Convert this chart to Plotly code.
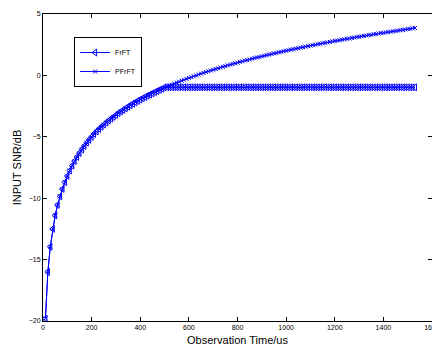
import plotly.graph_objects as go

# Observation time (us)
obs_time = [10 * n for n in range(1, 154)]

# PFrFT: keeps improving with observation time
pfrft_snr = [
    -19.8, -16.0, -13.95, -12.5, -11.4, -10.55, -9.85, -9.25, -8.7, -8.19,
    -7.75, -7.35, -6.98, -6.64, -6.32, -6.03, -5.75, -5.48, -5.24, -5.00,
    -4.77, -4.57, -4.37, -4.19, -4.01, -3.84, -3.68, -3.52, -3.37, -3.22,
    -3.08, -2.94, -2.81, -2.68, -2.55, -2.43, -2.31, -2.19, -2.08, -1.97,
    -1.86, -1.76, -1.66, -1.56, -1.46, -1.36, -1.27, -1.18, -1.09, -1.00,
    -0.91, -0.83, -0.75, -0.67, -0.59, -0.51, -0.43, -0.36, -0.28, -0.21,
    -0.14, -0.07, 0.00, 0.07, 0.14, 0.21, 0.27, 0.34, 0.40, 0.46,
    0.52, 0.58, 0.64, 0.70, 0.76, 0.82, 0.88, 0.93, 0.99, 1.04,
    1.10, 1.15, 1.20, 1.25, 1.30, 1.36, 1.41, 1.46, 1.50, 1.55,
    1.60, 1.65, 1.70, 1.74, 1.79, 1.83, 1.88, 1.92, 1.97, 2.01,
    2.05, 2.10, 2.14, 2.18, 2.22, 2.26, 2.30, 2.34, 2.38, 2.42,
    2.46, 2.50, 2.54, 2.58, 2.62, 2.66, 2.69, 2.73, 2.77, 2.80,
    2.84, 2.87, 2.91, 2.94, 2.98, 3.01, 3.05, 3.08, 3.12, 3.15,
    3.18, 3.22, 3.25, 3.28, 3.31, 3.35, 3.38, 3.41, 3.44, 3.47,
    3.50, 3.53, 3.56, 3.59, 3.62, 3.65, 3.68, 3.71, 3.74, 3.77,
    3.80, 3.83, 3.86,
]

# FrFT: saturates at about -1 dB after ~500 us
frft_snr = [
    -19.8, -16.0, -13.95, -12.5, -11.4, -10.55, -9.85, -9.25, -8.7, -8.19,
    -7.75, -7.35, -6.98, -6.64, -6.32, -6.03, -5.75, -5.48, -5.24, -5.00,
    -4.77, -4.57, -4.37, -4.19, -4.01, -3.84, -3.68, -3.52, -3.37, -3.22,
    -3.08, -2.94, -2.81, -2.68, -2.55, -2.43, -2.31, -2.19, -2.08, -1.97,
    -1.86, -1.76, -1.66, -1.56, -1.46, -1.36, -1.27, -1.18, -1.09, -0.97,
    -0.97, -0.97, -0.97, -0.97, -0.97, -0.97, -0.97, -0.97, -0.97, -0.97,
    -0.97, -0.97, -0.97, -0.97, -0.97, -0.97, -0.97, -0.97, -0.97, -0.97,
    -0.97, -0.97, -0.97, -0.97, -0.97, -0.97, -0.97, -0.97, -0.97, -0.97,
    -0.97, -0.97, -0.97, -0.97, -0.97, -0.97, -0.97, -0.97, -0.97, -0.97,
    -0.97, -0.97, -0.97, -0.97, -0.97, -0.97, -0.97, -0.97, -0.97, -0.97,
    -0.97, -0.97, -0.97, -0.97, -0.97, -0.97, -0.97, -0.97, -0.97, -0.97,
    -0.97, -0.97, -0.97, -0.97, -0.97, -0.97, -0.97, -0.97, -0.97, -0.97,
    -0.97, -0.97, -0.97, -0.97, -0.97, -0.97, -0.97, -0.97, -0.97, -0.97,
    -0.97, -0.97, -0.97, -0.97, -0.97, -0.97, -0.97, -0.97, -0.97, -0.97,
    -0.97, -0.97, -0.97, -0.97, -0.97, -0.97, -0.97, -0.97, -0.97, -0.97,
    -0.97, -0.97, -0.97,
]

x_ticks = [0, 200, 400, 600, 800, 1000, 1200, 1400, 1600]
y_ticks = [-20, -15, -10, -5, 0, 5]

FONT = "Liberation Sans, Arial, Helvetica, sans-serif"
BLUE = "#0000ff"

fig = go.Figure()
fig.add_trace(go.Scatter(
    x=obs_time, y=frft_snr, name="FrFT", mode="lines+markers",
    line=dict(color=BLUE, width=1),
    marker=dict(symbol="triangle-left-open", size=6, color=BLUE,
                line=dict(color=BLUE, width=1)),
))
fig.add_trace(go.Scatter(
    x=obs_time, y=pfrft_snr, name="PFrFT", mode="lines+markers",
    line=dict(color=BLUE, width=1),
    marker=dict(symbol="x-thin-open", size=4, color=BLUE,
                line=dict(color=BLUE, width=1)),
))

axis_common = dict(
    showline=True, linecolor="black", linewidth=1, mirror="ticks",
    ticks="inside", ticklen=4, tickcolor="black", tickwidth=1,
    showgrid=False, zeroline=False, automargin=False,
    tickfont=dict(family=FONT, size=7, color="black"),
)

# The page body adds an 8px offset; margins compensate for it.
fig.update_layout(
    width=440, height=340,
    margin=dict(l=35, r=16, t=6, b=27),
    paper_bgcolor="white", plot_bgcolor="white",
    font=dict(family=FONT, color="black"),
    xaxis=dict(range=[0, 1600], tickmode="array", tickvals=x_ticks,
               title=dict(text="Observation Time/us", font=dict(size=11), standoff=5),
               **axis_common),
    yaxis=dict(range=[-20, 5], tickmode="array", tickvals=y_ticks,
               title=dict(text="INPUT SNR/dB", font=dict(size=11), standoff=4),
               **axis_common),
    legend=dict(x=0.08, y=0.925, xanchor="left", yanchor="top",
                bgcolor="white", bordercolor="black", borderwidth=1,
                font=dict(family=FONT, size=7, color="black"),
                itemwidth=30, tracegroupgap=0),
    showlegend=True,
)

fig.write_html("out.html")
